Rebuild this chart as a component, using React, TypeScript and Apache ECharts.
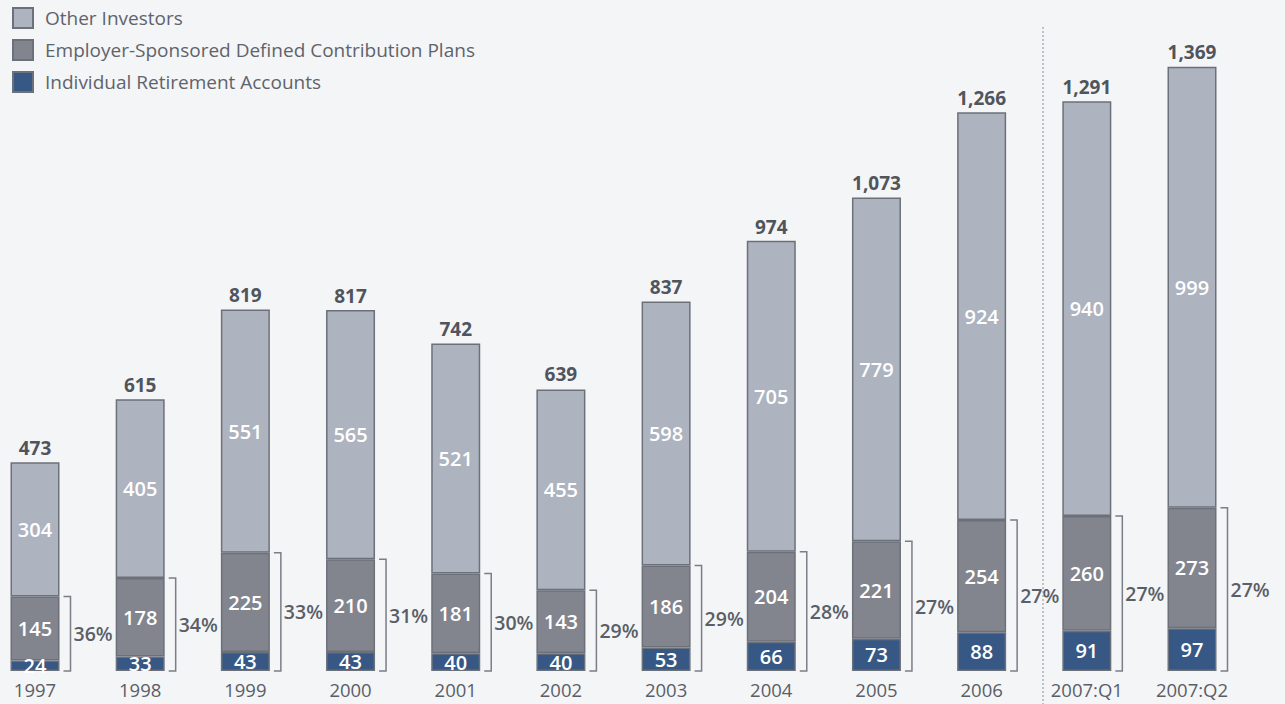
import React, { useEffect, useRef } from "react";
import * as echarts from "echarts";

const categories = ["1997", "1998", "1999", "2000", "2001", "2002", "2003", "2004", "2005", "2006", "2007:Q1", "2007:Q2"];
const ira = [24, 33, 43, 43, 40, 40, 53, 66, 73, 88, 91, 97];
const employer = [145, 178, 225, 210, 181, 143, 186, 204, 221, 254, 260, 273];
const other = [304, 405, 551, 565, 521, 455, 598, 705, 779, 924, 940, 999];
const totals = [473, 615, 819, 817, 742, 639, 837, 974, 1073, 1266, 1291, 1369];
const shares = ["36%", "34%", "33%", "31%", "30%", "29%", "29%", "28%", "27%", "27%", "27%", "27%"];

const seriesNames = ["Individual Retirement Accounts", "Employer-Sponsored Defined Contribution Plans", "Other Investors"];
const colors = ["#375884", "#82858e", "#adb3bf"];

const FONT = "'Open Sans', 'Noto Sans', sans-serif";
const BAR_W = 49;

export default function App() {
  const ref = useRef<HTMLDivElement>(null);
  useEffect(() => {
    if (!ref.current) return;
    const chart = echarts.init(ref.current, null, { renderer: "svg" });
    const fmtTotal = (v: number) => v.toLocaleString("en-US");
    const segLabel = {
      show: true,
      position: "inside",
      color: "#ffffff",
      fontFamily: FONT,
      fontSize: 20,
      fontWeight: 600,
    };
    const barSeries = [ira, employer, other].map((d, i) => ({
      name: seriesNames[i],
      type: "bar",
      stack: "total",
      barWidth: BAR_W,
      clip: false,
      data: d,
      itemStyle: { color: colors[i], borderColor: "#6c7079", borderWidth: 1.5 },
      label: segLabel,
      z: 2,
    }));
    const customData = categories.map((_, i) => [i, ira[i] + employer[i], totals[i]]);
    chart.setOption({
      animation: false,
      backgroundColor: "#f4f5f7",
      legend: {
        orient: "vertical",
        left: 12,
        top: 7,
        padding: 0,
        itemWidth: 20,
        itemHeight: 20,
        itemGap: 10,
        icon: "rect",
        data: [seriesNames[2], seriesNames[1], seriesNames[0]],
        textStyle: { fontFamily: FONT, fontSize: 19, color: "#5f636b", padding: [4, 0, 0, 7] },
        selectedMode: false,
      },
      grid: { left: 35, right: 93, top: 9, bottom: 33 },
      xAxis: {
        type: "category",
        data: categories,
        boundaryGap: false,
        axisLine: { show: false },
        axisTick: { show: false },
        axisLabel: { fontFamily: FONT, fontSize: 18.5, color: "#5a5e66", margin: 9 },
      },
      yAxis: {
        type: "value",
        min: 0,
        max: 1500,
        show: false,
        splitLine: { show: false },
      },
      graphic: [
        {
          type: "line",
          shape: { x1: 1043, y1: 27, x2: 1043, y2: 704 },
          style: { stroke: "#8a8e96", lineWidth: 1, lineDash: [2, 2] },
          z: 0,
        },
      ],
      series: [
        ...barSeries,
        {
          type: "custom",
          data: customData,
          encode: { x: 0, y: 1 },
          z: 3,
          renderItem: (params: any, api: any) => {
            const idx = api.value(0);
            const top = api.value(1);
            const total = api.value(2);
            const p0 = api.coord([idx, 0]);
            const p1 = api.coord([idx, top]);
            const pt = api.coord([idx, total]);
            const xr = p0[0] + BAR_W / 2;
            const bx = xr + 11;
            return {
              type: "group",
              children: [
                {
                  type: "polyline",
                  shape: { points: [[xr + 4, p1[1]], [bx, p1[1]], [bx, p0[1]], [xr + 4, p0[1]]] },
                  style: { stroke: "#7a7e87", lineWidth: 1.5, fill: null },
                },
                {
                  type: "text",
                  x: bx + 3,
                  y: (p0[1] + p1[1]) / 2,
                  style: {
                    text: shares[idx],
                    fontFamily: FONT,
                    fontSize: 19.5,
                    fontWeight: 600,
                    fill: "#5a5e66",
                    align: "left",
                    verticalAlign: "middle",
                  },
                },
                {
                  type: "text",
                  x: pt[0],
                  y: pt[1] - 5,
                  style: {
                    text: fmtTotal(total),
                    fontFamily: FONT,
                    fontSize: 19,
                    fontWeight: 700,
                    fill: "#50545c",
                    align: "center",
                    verticalAlign: "bottom",
                  },
                },
              ],
            };
          },
        },
      ],
    });
    return () => chart.dispose();
  }, []);
  return <div ref={ref} style={{ position: "absolute", left: 0, top: 0, width: 1285, height: 704 }} />;
}
